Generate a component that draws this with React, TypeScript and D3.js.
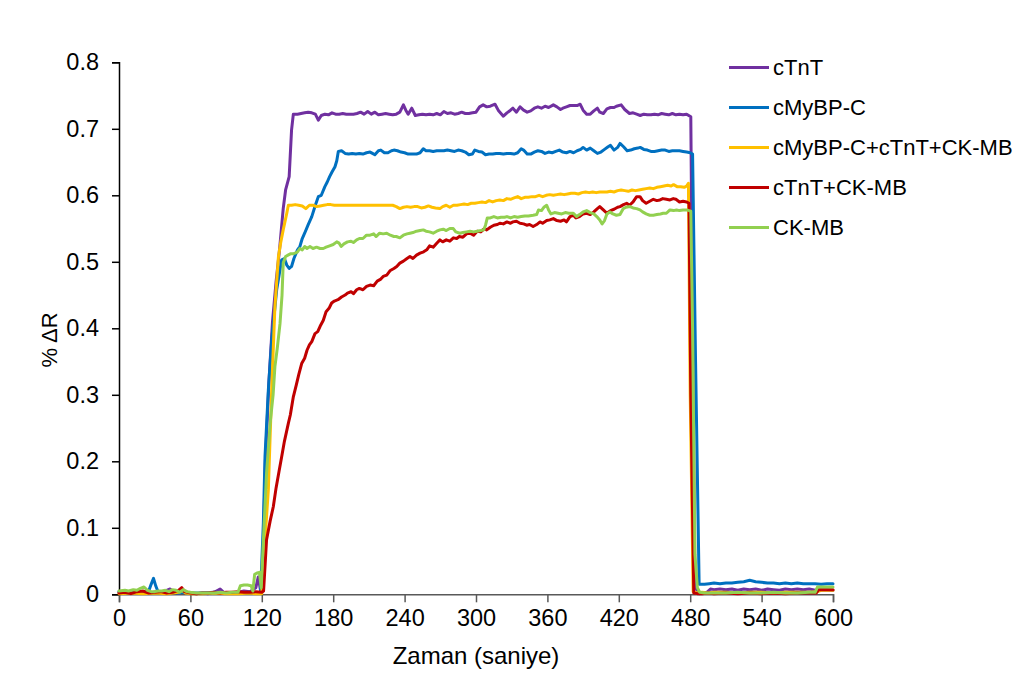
import React, { useEffect, useRef } from "react";
import * as d3 from "d3";

type Pt = [number, number];

const seriesNames = ["cTnT", "cMyBP-C", "cMyBP-C+cTnT+CK-MB", "cTnT+CK-MB", "CK-MB"];
const seriesColors = ["#7030A0", "#0070C0", "#FFC000", "#C00000", "#92D050"];
const xTicks = [0, 60, 120, 180, 240, 300, 360, 420, 480, 540, 600];
const yTicks = [0, 0.1, 0.2, 0.3, 0.4, 0.5, 0.6, 0.7, 0.8];

const cTnT: Pt[] = [[0,0.003],[5,0.004],[10,0.002],[15,0.003],[20,0.004],[25,0.002],[30,0.003],[35,0.002],[40,0.006],[43,0.008],[46,0.003],[50,0.002],[55,0.004],[60,0.002],[65,0.001],[70,0.002],[75,0.001],[80,0.003],[85,0.008],[88,0.003],[95,0.002],[100,0.003],[105,0.005],[110,0.004],[115,0.01],[117,0.026],[119,0.005],[121,0.05],[123,0.2],[126,0.32],[129,0.41],[132,0.47],[135,0.52],[138,0.58],[140,0.608],[143,0.628],[145,0.698],[146.5,0.722],[150,0.722],[153,0.723],[156,0.724],[159,0.725],[162,0.724],[165,0.722],[167.5,0.713],[170,0.72],[173,0.722],[176,0.721],[179,0.724],[182,0.722],[185,0.722],[188,0.723],[191,0.722],[194,0.722],[197,0.722],[200,0.723],[203,0.725],[206,0.722],[209,0.726],[212,0.722],[215,0.725],[218,0.721],[221,0.722],[224,0.723],[227,0.722],[230,0.721],[233,0.722],[236,0.725],[239,0.736],[241,0.728],[243,0.722],[246,0.731],[249,0.72],[252,0.721],[255,0.722],[258,0.721],[261,0.722],[264,0.721],[267,0.723],[270,0.721],[273,0.726],[276,0.723],[279,0.724],[282,0.722],[285,0.723],[288,0.725],[291,0.723],[294,0.723],[297,0.724],[300,0.725],[303,0.733],[306,0.736],[309,0.733],[312,0.734],[316,0.737],[319,0.727],[323,0.719],[326,0.724],[329,0.728],[331,0.731],[334,0.725],[337,0.733],[340,0.728],[343,0.725],[346,0.727],[349,0.731],[352,0.733],[355,0.731],[358,0.734],[361,0.732],[365,0.736],[368,0.733],[371,0.729],[373,0.731],[376,0.733],[379,0.735],[382,0.735],[385,0.735],[387.5,0.737],[390,0.728],[393,0.722],[396,0.722],[399,0.727],[402,0.731],[404,0.725],[407,0.723],[410,0.73],[413,0.732],[416,0.732],[418,0.734],[422,0.736],[425,0.729],[429,0.723],[432,0.724],[435,0.722],[438,0.72],[441,0.722],[444,0.721],[447,0.721],[450,0.722],[453,0.721],[456,0.723],[459,0.722],[462,0.721],[465,0.723],[468,0.721],[471,0.722],[474,0.721],[477,0.722],[480.5,0.718],[482,0.4],[484,0.01],[488,0.001],[491,0.002],[494,0.003],[497,0.008],[500,0.007],[505,0.008],[510,0.007],[515,0.008],[520,0.006],[525,0.008],[530,0.007],[535,0.008],[540,0.006],[545,0.008],[550,0.007],[555,0.006],[560,0.008],[565,0.007],[570,0.008],[575,0.007],[580,0.008],[585,0.006],[590,0.007],[595,0.007],[600,0.006]];

const cMyBPC: Pt[] = [[0,0.004],[5,0.003],[10,0.002],[15,0.004],[20,0.003],[25,0.005],[27,0.015],[29,0.024],[31,0.012],[33,0.003],[38,0.002],[45,0.003],[50,0.002],[55,0.003],[60,0.002],[70,0.002],[80,0.003],[90,0.002],[100,0.002],[110,0.003],[115,0.002],[119,0.003],[121.3,0.107],[122.7,0.207],[125.5,0.307],[128.3,0.382],[132.5,0.458],[136.7,0.503],[139,0.505],[141,0.495],[143,0.49],[145,0.493],[147,0.505],[150,0.518],[152,0.523],[154,0.535],[156,0.543],[159,0.556],[162,0.568],[165,0.585],[167.5,0.598],[170,0.6],[173,0.613],[175,0.62],[177,0.628],[179,0.635],[181.5,0.643],[183,0.652],[184.3,0.666],[187,0.667],[190,0.663],[193,0.662],[196,0.663],[199,0.662],[202,0.663],[205,0.662],[208,0.664],[211,0.665],[213,0.663],[215,0.661],[218,0.667],[220,0.668],[223,0.664],[226,0.664],[229,0.667],[231,0.668],[234,0.667],[237,0.665],[240,0.664],[243,0.662],[246,0.662],[250,0.662],[253,0.664],[255.7,0.670],[258,0.667],[261,0.667],[264,0.666],[267,0.667],[270,0.667],[273,0.667],[276,0.668],[279,0.667],[282,0.666],[285,0.668],[288,0.667],[291,0.665],[294,0.661],[297,0.662],[299,0.668],[302,0.666],[305,0.665],[308,0.661],[311,0.662],[314,0.662],[317,0.663],[320,0.663],[323,0.662],[326,0.663],[329,0.663],[332,0.662],[335,0.664],[338,0.67],[340,0.668],[343,0.662],[346,0.662],[349,0.665],[352,0.667],[355,0.666],[358,0.663],[361,0.665],[364,0.664],[367,0.666],[370,0.668],[373,0.665],[376,0.664],[379,0.666],[382,0.664],[385,0.667],[388,0.669],[390,0.672],[393,0.668],[396,0.671],[399,0.667],[402,0.663],[405,0.665],[408,0.669],[411,0.673],[413,0.675],[416,0.668],[419,0.672],[421,0.678],[424,0.673],[427,0.667],[430,0.668],[433,0.67],[436,0.671],[438,0.672],[441,0.669],[444,0.668],[447,0.666],[450,0.666],[453,0.667],[456,0.668],[459,0.668],[462,0.666],[465,0.667],[468,0.667],[471,0.667],[474,0.666],[477,0.665],[480,0.664],[482,0.662],[484.5,0.35],[487.5,0.015],[492,0.015],[496,0.016],[500,0.017],[505,0.016],[510,0.017],[515,0.017],[520,0.018],[525,0.019],[530,0.021],[535,0.019],[540,0.018],[545,0.017],[550,0.017],[555,0.016],[560,0.017],[565,0.016],[570,0.017],[575,0.016],[580,0.016],[585,0.016],[590,0.015],[595,0.016],[600,0.016]];

const mixAll: Pt[] = [[0,0.001],[10,0.002],[20,0.001],[30,0.002],[40,0.001],[50,0.003],[53,0.006],[56,0.002],[60,0.001],[70,0.001],[80,0.002],[90,0.001],[100,0.001],[110,0.002],[115,0.001],[120,0.001],[122.7,0.082],[125.5,0.157],[128.3,0.307],[131,0.432],[134,0.508],[136,0.53],[138,0.548],[141,0.573],[142.3,0.585],[145,0.585],[148,0.586],[151,0.585],[154,0.584],[157,0.58],[160,0.585],[163,0.585],[166,0.583],[169,0.584],[172,0.585],[175,0.586],[178,0.586],[181,0.585],[184,0.585],[187,0.585],[190,0.585],[195,0.585],[200,0.585],[205,0.585],[210,0.585],[215,0.585],[220,0.585],[225,0.585],[230,0.585],[233,0.583],[236,0.58],[239,0.582],[242,0.583],[245,0.582],[248,0.583],[251,0.583],[254,0.581],[257,0.582],[260,0.584],[263,0.582],[266,0.581],[269.7,0.58],[272,0.583],[275,0.585],[278,0.582],[281,0.585],[284,0.585],[287,0.586],[290,0.587],[293,0.586],[296,0.588],[299,0.588],[302,0.589],[305,0.59],[308,0.589],[311,0.592],[314,0.59],[317,0.592],[320,0.593],[323,0.592],[326,0.595],[329,0.594],[332,0.596],[335,0.598],[338,0.595],[341,0.597],[344,0.597],[347,0.598],[350,0.598],[353,0.6],[356,0.598],[359,0.6],[362,0.601],[365,0.6],[368,0.601],[371,0.602],[374,0.601],[377,0.602],[380,0.603],[383,0.603],[386,0.602],[389,0.604],[392,0.605],[395,0.604],[398,0.605],[401,0.604],[404,0.605],[407,0.605],[410,0.605],[413,0.606],[416,0.605],[419,0.607],[422,0.608],[425,0.607],[428,0.606],[431,0.608],[434,0.607],[437,0.608],[440,0.609],[443,0.61],[446,0.611],[449,0.61],[452,0.612],[455,0.613],[458,0.614],[461,0.615],[464,0.614],[466,0.616],[469,0.613],[472,0.613],[475,0.612],[477,0.614],[478.5,0.618],[480,0.3],[482.5,0.004],[485,0.002],[490,0.003],[495,0.002],[500,0.003],[510,0.003],[520,0.002],[530,0.003],[540,0.003],[550,0.002],[560,0.003],[570,0.003],[580,0.003],[587,0.004],[590,0.006],[595,0.006],[600,0.006]];

const cTnTCKMB: Pt[] = [[0,0.002],[5,0.003],[10,0.001],[15,0.004],[20,0.005],[25,0.002],[30,0.003],[35,0.004],[40,0.002],[45,0.003],[50,0.006],[52.7,0.01],[55,0.004],[60,0.002],[65,0.001],[70,0.002],[75,0.002],[80,0.003],[85,0.002],[90,0.003],[95,0.003],[100,0.004],[105,0.003],[110,0.003],[115,0.004],[120,0.003],[121.5,0.005],[124,0.082],[127,0.11],[129.7,0.132],[132,0.16],[134.5,0.185],[136.7,0.207],[139,0.23],[142.3,0.257],[144,0.27],[146.5,0.297],[149,0.315],[151,0.33],[153.5,0.347],[156,0.355],[158,0.367],[160,0.375],[162,0.38],[164.7,0.392],[167,0.395],[169,0.403],[171.7,0.412],[174,0.425],[176.5,0.43],[178.7,0.438],[181,0.441],[184,0.443],[187,0.447],[190,0.45],[192,0.453],[195,0.455],[197,0.452],[199.7,0.458],[202,0.46],[205,0.458],[208,0.463],[211,0.465],[214,0.464],[217,0.471],[220,0.474],[222,0.478],[225,0.48],[228,0.487],[231,0.49],[233.4,0.493],[236,0.498],[239,0.501],[242,0.505],[244.5,0.508],[247,0.505],[250,0.51],[253,0.513],[256,0.515],[258.6,0.518],[261,0.524],[264,0.522],[267,0.528],[269.7,0.533],[272,0.53],[275,0.533],[278,0.531],[281,0.536],[283.8,0.535],[286,0.538],[289,0.537],[292,0.542],[295,0.543],[298,0.54],[301,0.546],[304,0.545],[307,0.55],[309,0.548],[312,0.552],[315,0.555],[318,0.556],[320,0.558],[323,0.557],[326,0.56],[329,0.558],[331,0.56],[334,0.561],[337,0.558],[340,0.557],[342.6,0.555],[345,0.556],[348,0.553],[351,0.556],[353.8,0.56],[356,0.558],[359.4,0.562],[362,0.563],[365,0.565],[368,0.562],[371,0.561],[374,0.563],[376,0.56],[379,0.568],[381.8,0.57],[384,0.566],[387,0.568],[390,0.572],[393,0.573],[396,0.571],[399,0.575],[402,0.58],[404,0.583],[407,0.578],[410,0.573],[413,0.577],[416,0.579],[419,0.582],[421,0.583],[424,0.586],[426.6,0.588],[429,0.585],[432,0.59],[435,0.598],[437.8,0.598],[440,0.592],[443,0.588],[446,0.591],[449,0.594],[452,0.592],[454.6,0.593],[457,0.595],[460,0.594],[463,0.593],[465.8,0.595],[468,0.594],[471,0.59],[474,0.591],[477,0.59],[479,0.588],[480.5,0.3],[483,0.002],[486,0.001],[490,0.001],[495,0.002],[500,0.001],[510,0.002],[520,0.001],[530,0.002],[540,0.001],[550,0.002],[560,0.001],[570,0.002],[580,0.002],[586,0.002],[588,0.007],[592,0.007],[596,0.007],[600,0.007]];

const CKMB: Pt[] = [[0,0.005],[5,0.006],[8,0.005],[12,0.007],[15,0.006],[18,0.009],[21,0.011],[24,0.006],[27,0.004],[30,0.004],[33,0.005],[36,0.005],[39,0.006],[42,0.004],[45,0.007],[48,0.006],[51,0.003],[54,0.007],[57,0.004],[60,0.003],[65,0.002],[70,0.002],[75,0.002],[80,0.002],[85,0.003],[90,0.002],[95,0.003],[100,0.003],[102,0.013],[105,0.014],[108,0.014],[111,0.013],[112.5,0.005],[114,0.03],[116,0.032],[118,0.033],[119.5,0.01],[121.3,0.08],[124,0.182],[127,0.257],[129.5,0.3],[131,0.342],[133,0.37],[135.3,0.407],[137,0.45],[138,0.498],[140,0.508],[142,0.51],[144,0.512],[146,0.512],[148,0.513],[150,0.515],[152,0.52],[154,0.518],[156,0.523],[158,0.52],[160.5,0.523],[163,0.52],[166,0.522],[169,0.52],[171.7,0.52],[174,0.522],[177,0.524],[180,0.526],[183,0.53],[185,0.528],[186.7,0.523],[189,0.527],[192,0.53],[195,0.531],[197,0.529],[199.7,0.533],[202,0.535],[205,0.535],[208,0.54],[211,0.54],[214,0.542],[216,0.538],[219,0.543],[222,0.542],[225,0.543],[228,0.54],[231,0.538],[233,0.538],[236,0.536],[239,0.54],[242,0.542],[244.5,0.543],[247,0.544],[250,0.546],[253,0.547],[255.7,0.548],[258,0.546],[261,0.545],[264,0.543],[267,0.546],[269.7,0.548],[272.5,0.549],[275,0.547],[278,0.55],[280.9,0.55],[283,0.545],[286.5,0.543],[289,0.544],[292,0.545],[295,0.546],[298,0.545],[301,0.546],[304,0.547],[306.5,0.548],[308,0.555],[309.5,0.566],[312,0.566],[315,0.568],[318,0.566],[321,0.567],[324,0.567],[326,0.568],[329,0.566],[332,0.568],[335,0.567],[338,0.568],[341,0.569],[344,0.569],[348,0.57],[351,0.571],[352.5,0.578],[355,0.577],[357,0.582],[359.4,0.585],[361,0.578],[363,0.572],[366,0.574],[369,0.573],[372,0.572],[375,0.574],[378,0.573],[381.8,0.573],[384.6,0.568],[387,0.571],[390,0.575],[393,0.577],[396,0.574],[399,0.572],[401.5,0.568],[404,0.563],[406,0.557],[408,0.562],[410,0.572],[412.6,0.575],[415,0.572],[418,0.57],[421,0.571],[423.8,0.58],[426,0.582],[429.4,0.583],[432,0.581],[435,0.58],[437.8,0.578],[440,0.575],[443,0.572],[446,0.57],[449,0.57],[452,0.571],[455,0.572],[457.3,0.573],[460,0.573],[463,0.578],[466,0.577],[468.5,0.578],[471,0.577],[474,0.578],[477,0.578],[479,0.577],[480.5,0.576],[482,0.4],[484,0.06],[486,0.01],[488,0.003],[492,0.002],[500,0.002],[510,0.002],[520,0.003],[530,0.002],[540,0.002],[550,0.003],[560,0.002],[570,0.002],[580,0.003],[585,0.003],[587,0.011],[590,0.011],[595,0.011],[600,0.011]];

const allSeries: Pt[][] = [cTnT, cMyBPC, mixAll, cTnTCKMB, CKMB];

const W = 1035;
const H = 679;
const FONT = "'Liberation Sans', Arial, Helvetica, sans-serif";

export default function App() {
  const ref = useRef<SVGSVGElement>(null);

  useEffect(() => {
    const svg = d3.select(ref.current);
    svg.selectAll("*").remove();

    const x = d3.scaleLinear().domain([0, 600]).range([119, 833]);
    const y = d3.scaleLinear().domain([0, 0.8]).range([594.3, 62.3]);

    // y axis
    const yAxis = svg.append("g").attr("transform", `translate(${x(0)},0)`)
      .call(d3.axisLeft(y).tickValues(yTicks).tickSize(7).tickPadding(13)
        .tickFormat((d) => (d === 0 ? "0" : d3.format(".1f")(d as number))));
    yAxis.select(".domain").attr("stroke", "#000").attr("stroke-width", 1.5);
    yAxis.selectAll(".tick line").attr("stroke", "#000").attr("stroke-width", 1.5);
    yAxis.selectAll(".tick text").attr("font-family", FONT).attr("font-size", 23.5).attr("fill", "#000");

    // x axis
    const xAxis = svg.append("g").attr("transform", `translate(0,${y(0)})`)
      .call(d3.axisBottom(x).tickValues(xTicks).tickSize(8).tickPadding(7).tickFormat(d3.format("d")));
    xAxis.select(".domain").attr("stroke", "#595959").attr("stroke-width", 1.5);
    xAxis.selectAll(".tick line").attr("stroke", "#595959").attr("stroke-width", 1.5);
    xAxis.selectAll(".tick text").attr("font-family", FONT).attr("font-size", 23.5).attr("fill", "#000");

    // lines
    const line = d3.line<Pt>().x((d) => x(d[0])).y((d) => y(d[1])).curve(d3.curveLinear);
    allSeries.forEach((s, i) => {
      svg.append("path").datum(s).attr("d", line).attr("fill", "none")
        .attr("stroke", seriesColors[i]).attr("stroke-width", 3)
        .attr("stroke-linejoin", "round").attr("stroke-linecap", "round");
    });

    // axis titles
    svg.append("text").attr("x", (x(0) + x(600)) / 2).attr("y", 664).attr("text-anchor", "middle")
      .attr("font-family", FONT).attr("font-size", 24).attr("fill", "#000").text("Zaman (saniye)");
    svg.append("text").attr("transform", `translate(57,340) rotate(-90)`).attr("text-anchor", "middle")
      .attr("font-family", FONT).attr("font-size", 22).attr("fill", "#000").text("% ΔR");

    // legend
    const leg = svg.append("g");
    seriesNames.forEach((n, i) => {
      const ly = 67.5 + i * 40;
      leg.append("line").attr("x1", 729).attr("x2", 769).attr("y1", ly).attr("y2", ly)
        .attr("stroke", seriesColors[i]).attr("stroke-width", 3);
      leg.append("text").attr("x", 773).attr("y", ly).attr("dy", "0.36em")
        .attr("font-family", FONT).attr("font-size", 22).attr("fill", "#000").text(n);
    });
  }, []);

  return (
    <svg ref={ref} width={W} height={H}
      style={{ position: "absolute", left: 0, top: 0, background: "#fff" }} />
  );
}
